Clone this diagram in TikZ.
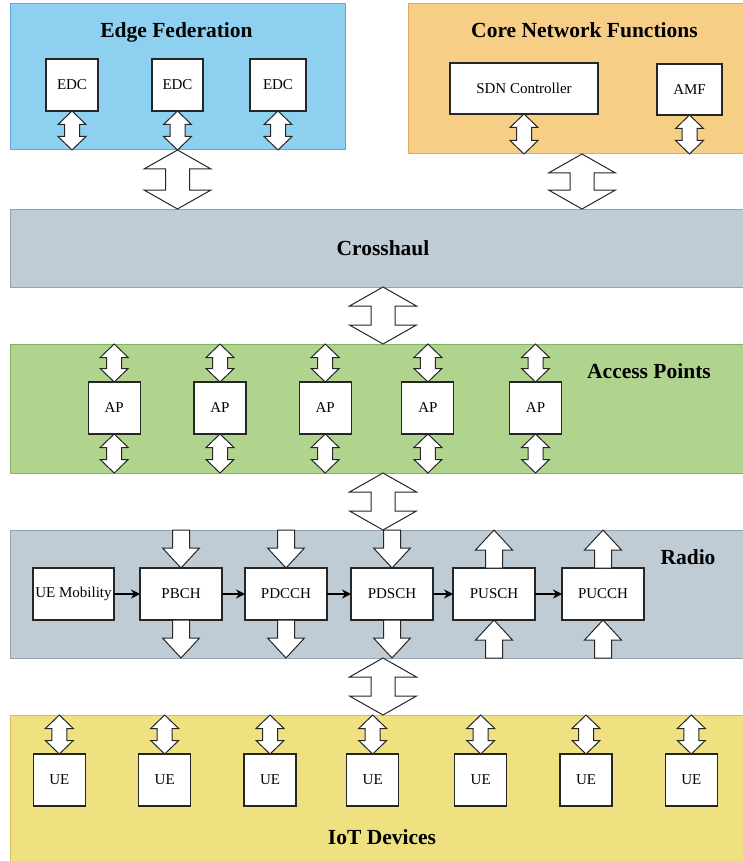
\documentclass[tikz,border=0pt]{standalone}
\usepackage{fontspec}
\setmainfont{Liberation Serif}
\usepackage{xcolor}
\usepackage{tikz}
\usetikzlibrary{positioning,arrows.meta,calc}

\definecolor{edgeblue}{RGB}{142,208,240}
\definecolor{edgeline}{RGB}{96,168,218}
\definecolor{coreorange}{RGB}{246,206,134}
\definecolor{coreline}{RGB}{218,172,96}
\definecolor{slate}{RGB}{191,204,214}
\definecolor{slateline}{RGB}{150,162,174}
\definecolor{apgreen}{RGB}{176,212,142}
\definecolor{apline}{RGB}{128,180,98}
\definecolor{iotyellow}{RGB}{240,225,128}
\definecolor{iotline}{RGB}{214,190,92}

% hollow block arrows between two points on one vertical line
\newcommand{\dblarrow}[5]{% top, bottom, half head, half shaft, head length
  \draw[blockar] let \p1=#1, \p2=#2, \p3=($#1!#5!#2$), \p4=($#2!#5!#1$) in
    (\x1,\y1) -- (\x1+#3,\y3) -- (\x1+#4,\y3) -- (\x1+#4,\y4) -- (\x1+#3,\y4)
    -- (\x1,\y2) -- (\x1-#3,\y4) -- (\x1-#4,\y4) -- (\x1-#4,\y3) -- (\x1-#3,\y3)
    -- cycle;}
\newcommand{\smalldbl}[2]{\dblarrow{#1}{#2}{14pt}{7.5pt}{13.5pt}}
\newcommand{\bigdbl}[2]{\dblarrow{#1}{#2}{33.5pt}{12pt}{19pt}}
\newcommand{\blkarrow}[2]{% tail, tip
  \draw[blockar] let \p1=#1, \p2=#2, \p3=($#2!20pt!#1$) in
    (\x1-8.5pt,\y1) -- (\x1+8.5pt,\y1) -- (\x1+8.5pt,\y3) -- (\x1+18.5pt,\y3)
    -- (\x1,\y2) -- (\x1-18.5pt,\y3) -- (\x1-8.5pt,\y3) -- cycle;}

\begin{document}
\begin{tikzpicture}[
  x=1pt, y=-1pt,
  panel/.style   = {draw, line width=1pt, inner sep=0pt, outer sep=0pt,
                    anchor=north west},
  title/.style   = {font=\fontsize{21.5}{24}\selectfont\bfseries, inner sep=0pt,
                    text height=14pt, text depth=4pt},
  box/.style     = {draw=black!85, line width=1.1pt, fill=white, inner sep=1pt,
                    outer sep=0pt, minimum width=52pt, minimum height=52pt,
                    font=\fontsize{15}{18}\selectfont},
  chbox/.style   = {box, minimum width=82pt},
  blockar/.style = {draw=black!85, fill=white, line width=1pt, line join=miter},
  ar/.style      = {-{Stealth[length=9pt,width=9pt]}, line width=1.2pt}
]
\useasboundingbox (0,0) rectangle (743,861);

% ---- layers ---------------------------------------------------------------
\node[panel, fill=edgeblue, draw=edgeline, minimum width=335pt,
      minimum height=146pt] (edge) at (10,4) {};
\node[panel, fill=coreorange, draw=coreline, minimum width=336pt,
      minimum height=150pt] (core) at (408,4) {};
\node[panel, fill=slate, draw=slateline, minimum width=734pt,
      minimum height=78pt] (cross) at (10,209) {};
\node[panel, fill=apgreen, draw=apline, minimum width=734pt,
      minimum height=129pt] (access) at (10,344) {};
\node[panel, fill=slate, draw=slateline, minimum width=734pt,
      minimum height=128pt] (radio) at (10,530) {};
\node[panel, fill=iotyellow, draw=iotline, minimum width=734pt,
      minimum height=147pt] (iot) at (10,715) {};

\node[title] (edgetitle)   at (176.5,33) {Edge Federation};
\node[title] (coretitle)   at (584.5,33) {Core Network Functions};
\node[title] (crosstitle)  at (383,250)  {Crosshaul};
\node[title] (accesstitle) at (649,373)  {Access Points};
\node[title] (radiotitle)  at (688,559)  {Radio};
\node[title] (iottitle)    at (382,839)  {IoT Devices};

% ---- edge federation and core ---------------------------------------------
\node[box] (edc1) at (72,85) {EDC};
\node[box, minimum width=51pt] (edc2) at (177.5,85) {EDC};
\node[box, minimum width=56pt] (edc3) at (278,85) {EDC};

\node[box, minimum width=148pt, minimum height=51pt] (sdn) at (524,88.5)
  {SDN Controller};
\node[box, minimum width=65pt, minimum height=51pt] (amf) at (689.5,89.5) {AMF};

\smalldbl{(edc1.south)}{(edc1 |- edge.south)}
\smalldbl{(edc2.south)}{(edc2 |- edge.south)}
\smalldbl{(edc3.south)}{(edc3 |- edge.south)}
\smalldbl{(sdn.south)}{(sdn |- core.south)}
\smalldbl{(amf.south)}{(amf |- core.south)}

\coordinate (corelink) at (582,0);
\coordinate (spine) at (383,0);
\bigdbl{(edc2 |- edge.south)}{(edc2 |- cross.north)}
\bigdbl{(corelink |- core.south)}{(corelink |- cross.north)}
\bigdbl{(spine |- cross.south)}{(spine |- access.north)}

% ---- access points --------------------------------------------------------
\node[box] (ap1) at (114.2,408) {AP};
\node[box, right=53.8pt of ap1] (ap2) {AP};
\node[box, right=53.2pt of ap2] (ap3) {AP};
\node[box, right=50.7pt of ap3] (ap4) {AP};
\node[box, right=55.6pt of ap4] (ap5) {AP};

\smalldbl{(ap1 |- access.north)}{(ap1.north)}
\smalldbl{(ap2 |- access.north)}{(ap2.north)}
\smalldbl{(ap3 |- access.north)}{(ap3.north)}
\smalldbl{(ap4 |- access.north)}{(ap4.north)}
\smalldbl{(ap5 |- access.north)}{(ap5.north)}
\smalldbl{(ap1.south)}{(ap1 |- access.south)}
\smalldbl{(ap2.south)}{(ap2 |- access.south)}
\smalldbl{(ap3.south)}{(ap3 |- access.south)}
\smalldbl{(ap4.south)}{(ap4 |- access.south)}
\smalldbl{(ap5.south)}{(ap5 |- access.south)}

\bigdbl{(spine |- access.south)}{(spine |- radio.north)}

% ---- radio channels -------------------------------------------------------
\node[chbox, minimum width=81pt] (uemob) at (73.5,594) {UE Mobility};
\node[chbox, right=26pt of uemob] (pbch)  {PBCH};
\node[chbox, right=23pt of pbch]  (pdcch) {PDCCH};
\node[chbox, right=24pt of pdcch] (pdsch) {PDSCH};
\node[chbox, right=20pt of pdsch] (pusch) {PUSCH};
\node[chbox, right=27pt of pusch] (pucch) {PUCCH};

\draw[ar] (uemob) -- (pbch);
\draw[ar] (pbch) -- (pdcch);
\draw[ar] (pdcch) -- (pdsch);
\draw[ar] (pdsch) -- (pusch);
\draw[ar] (pusch) -- (pucch);

\blkarrow{(pbch |- radio.north)}{(pbch.north)}
\blkarrow{(pdcch |- radio.north)}{(pdcch.north)}
\blkarrow{(pdsch |- radio.north)}{(pdsch.north)}
\blkarrow{(pbch.south)}{(pbch |- radio.south)}
\blkarrow{(pdcch.south)}{(pdcch |- radio.south)}
\blkarrow{(pdsch.south)}{(pdsch |- radio.south)}
\blkarrow{(pusch.north)}{(pusch |- radio.north)}
\blkarrow{(pucch.north)}{(pucch |- radio.north)}
\blkarrow{(pusch |- radio.south)}{(pusch.south)}
\blkarrow{(pucch |- radio.south)}{(pucch.south)}

\bigdbl{(spine |- radio.south)}{(spine |- iot.north)}

% ---- iot devices ----------------------------------------------------------
\node[box] (ue1) at (59.3,780) {UE};
\node[box, right=53.4pt of ue1] (ue2) {UE};
\node[box, right=53.3pt of ue2] (ue3) {UE};
\node[box, right=50.7pt of ue3] (ue4) {UE};
\node[box, right=56pt of ue4]   (ue5) {UE};
\node[box, right=53.3pt of ue5] (ue6) {UE};
\node[box, right=53.3pt of ue6] (ue7) {UE};

\smalldbl{(ue1 |- iot.north)}{(ue1.north)}
\smalldbl{(ue2 |- iot.north)}{(ue2.north)}
\smalldbl{(ue3 |- iot.north)}{(ue3.north)}
\smalldbl{(ue4 |- iot.north)}{(ue4.north)}
\smalldbl{(ue5 |- iot.north)}{(ue5.north)}
\smalldbl{(ue6 |- iot.north)}{(ue6.north)}
\smalldbl{(ue7 |- iot.north)}{(ue7.north)}

\end{tikzpicture}
\end{document}
